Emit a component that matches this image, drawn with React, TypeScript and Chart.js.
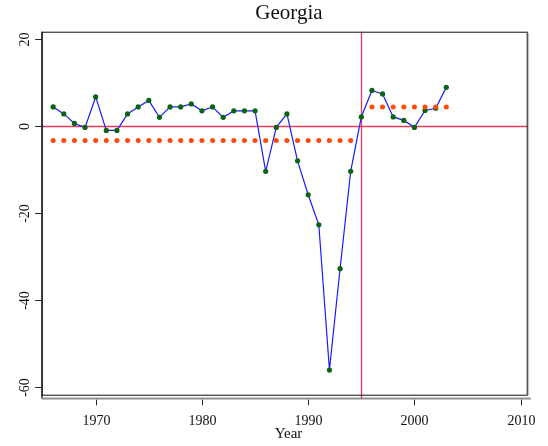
import React, { useEffect, useRef } from "react";
import { Chart, registerables } from "chart.js";

Chart.register(...registerables);

const titleText = "Georgia";
const xAxisTitle = "Year";
const years = [
  1966, 1967, 1968, 1969, 1970, 1971, 1972, 1973, 1974, 1975,
  1976, 1977, 1978, 1979, 1980, 1981, 1982, 1983, 1984, 1985,
  1986, 1987, 1988, 1989, 1990, 1991, 1992, 1993, 1994, 1995,
  1996, 1997, 1998, 1999, 2000, 2001, 2002, 2003,
];
const values = [
  4.3, 2.7, 0.5, -0.4, 6.6, -1.1, -1.1, 2.7, 4.3, 5.8,
  1.9, 4.3, 4.3, 5.0, 3.4, 4.3, 1.9, 3.4, 3.4, 3.4,
  -10.5, -0.4, 2.7, -8.1, -15.9, -22.8, -56.2, -32.9, -10.5, 2.0,
  8.1, 7.3, 2.0, 1.2, -0.4, 3.5, 4.0, 8.8,
];
const breakYear = 1995;
const preMean = -3.4;
const postMean = 4.3;
const xTicks = [1970, 1980, 1990, 2000, 2010];
const yTicks = [20, 0, -20, -40, -60];
const yTickLabels = ["20", "0", "-20", "-40", "-60"];

const SERIF = '"Liberation Serif", "Times New Roman", serif';
const RED = "#e03a62";

const stataPlugin = {
  id: "stataDecor",
  beforeDatasetsDraw(chart: any) {
    const { ctx, chartArea: a, scales } = chart;
    const x = scales.x;
    const y = scales.y;
    ctx.save();
    ctx.strokeStyle = RED;
    ctx.lineWidth = 1.3;
    const y0 = Math.round(y.getPixelForValue(0)) + 0.5;
    ctx.beginPath();
    ctx.moveTo(a.left, y0);
    ctx.lineTo(a.right, y0);
    ctx.stroke();
    const xb = Math.round(x.getPixelForValue(breakYear)) + 0.5;
    ctx.beginPath();
    ctx.moveTo(xb, a.top);
    ctx.lineTo(xb, a.bottom + 3);
    ctx.stroke();
    ctx.restore();
  },
  afterDraw(chart: any) {
    const { ctx, chartArea: a, scales } = chart;
    const x = scales.x;
    const y = scales.y;
    ctx.save();
    // plot box
    ctx.strokeStyle = "#111";
    ctx.lineWidth = 1;
    ctx.strokeRect(a.left + 0.5, a.top + 0.5, a.right - a.left - 1, a.bottom - a.top - 1);
    // shadow on right
    ctx.strokeStyle = "#bbb";
    ctx.beginPath();
    ctx.moveTo(a.right + 1, a.top + 1);
    ctx.lineTo(a.right + 1, a.bottom);
    ctx.stroke();
    // x axis line (offset)
    ctx.strokeStyle = "#555";
    ctx.lineWidth = 1;
    ctx.beginPath();
    ctx.moveTo(a.left, a.bottom + 2.5);
    ctx.lineTo(a.right + 3, a.bottom + 2.5);
    ctx.stroke();
    ctx.strokeStyle = "#aaa";
    ctx.beginPath();
    ctx.moveTo(a.left, a.bottom + 3.5);
    ctx.lineTo(a.right + 3, a.bottom + 3.5);
    ctx.stroke();
    // y axis line
    ctx.strokeStyle = "#111";
    ctx.lineWidth = 1.2;
    ctx.beginPath();
    ctx.moveTo(a.left + 0.2, a.top);
    ctx.lineTo(a.left + 0.2, a.bottom + 2.5);
    ctx.stroke();
    // x ticks
    ctx.strokeStyle = "#222";
    ctx.lineWidth = 1;
    ctx.fillStyle = "#111";
    ctx.font = `14px ${SERIF}`;
    ctx.textAlign = "center";
    ctx.textBaseline = "alphabetic";
    xTicks.forEach((t) => {
      const px = Math.round(x.getPixelForValue(t)) + 0.5;
      ctx.beginPath();
      ctx.moveTo(px, a.bottom + 4);
      ctx.lineTo(px, a.bottom + 9.5);
      ctx.stroke();
      ctx.fillText(String(t), px, a.bottom + 29);
    });
    // x title
    ctx.font = `15px ${SERIF}`;
    ctx.fillText(xAxisTitle, 288.5, a.bottom + 42.5);
    // y ticks
    ctx.font = `14px ${SERIF}`;
    yTicks.forEach((t, i) => {
      const py = Math.round(y.getPixelForValue(t)) + 0.5;
      ctx.beginPath();
      ctx.moveTo(a.left - 6.5, py);
      ctx.lineTo(a.left, py);
      ctx.stroke();
      ctx.save();
      ctx.translate(28.5, py);
      ctx.rotate(-Math.PI / 2);
      ctx.textAlign = "center";
      ctx.fillText(yTickLabels[i], 0, 0);
      ctx.restore();
    });
    // title
    ctx.font = `21px ${SERIF}`;
    ctx.textAlign = "center";
    ctx.fillText(titleText, 289, 19);
    ctx.restore();
  },
};

export default function App() {
  const ref = useRef<HTMLCanvasElement | null>(null);
  useEffect(() => {
    if (!ref.current) return;
    const series = years.map((yr, i) => ({ x: yr, y: values[i] }));
    const pre = years.filter((yr) => yr < breakYear).map((yr) => ({ x: yr, y: preMean }));
    const post = years.filter((yr) => yr > breakYear).map((yr) => ({ x: yr, y: postMean }));
    const chart = new Chart(ref.current, {
      type: "scatter",
      data: {
        datasets: [
          {
            data: pre,
            showLine: false,
            pointRadius: 2.5,
            pointBackgroundColor: "#ff4a0a",
            pointBorderWidth: 0,
            order: 1,
          },
          {
            data: post,
            showLine: false,
            pointRadius: 2.5,
            pointBackgroundColor: "#ff4a0a",
            pointBorderWidth: 0,
            order: 1,
          },
          {
            data: series,
            showLine: false,
            pointRadius: 2.6,
            pointBackgroundColor: "#0a6410",
            pointBorderWidth: 0,
            order: 2,
          },
          {
            data: series,
            showLine: true,
            borderColor: "#1a1aff",
            borderWidth: 1.2,
            pointRadius: 0,
            tension: 0,
            order: 3,
          },
        ],
      },
      options: {
        animation: false,
        responsive: false,
        devicePixelRatio: 1,
        layout: { padding: { left: 41.7, right: 20.3, top: 31.7, bottom: 50.3 } },
        plugins: { legend: { display: false }, tooltip: { enabled: false }, title: { display: false } },
        scales: {
          x: { type: "linear", min: 1964.92, max: 2010.66, display: false },
          y: { type: "linear", min: -62.1, max: 21.6, display: false },
        },
      },
      plugins: [stataPlugin],
    });
    return () => chart.destroy();
  }, []);
  return (
    <div style={{ position: "absolute", left: 0, top: 0, width: 548, height: 446, background: "#fff" }}>
      <canvas ref={ref} width={548} height={446} />
    </div>
  );
}
